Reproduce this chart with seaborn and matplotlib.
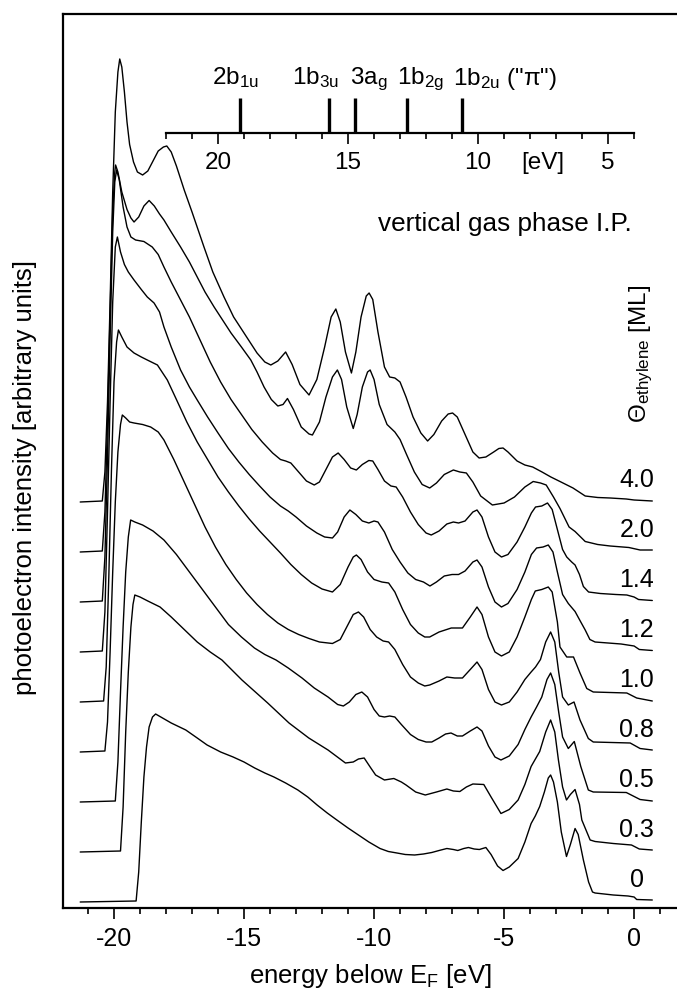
import matplotlib
matplotlib.use("Agg")
import matplotlib.pyplot as plt
import seaborn as sns
import pandas as pd
from matplotlib.ticker import MultipleLocator, FixedLocator

# coverage labels (bottom to top) and spectra as (energy [eV], intensity)
coverages = ["0", "0.3", "0.5", "0.8", "1.0", "1.2", "1.4", "2.0", "4.0"]

spec_00 = [(-21.3, 0.0), (-19.15, 0.02), (-19.05, 0.6), (-18.95, 1.6), (-18.85, 2.5), (-18.75, 3.1),
           (-18.65, 3.5), (-18.52, 3.7), (-18.4, 3.76), (-18.2, 3.7), (-17.8, 3.58), (-17.24, 3.44),
           (-16.8, 3.28), (-16.42, 3.14), (-15.9, 3.0), (-15.42, 2.9), (-15.0, 2.8), (-14.59, 2.68),
           (-14.2, 2.58), (-13.85, 2.5), (-13.4, 2.38), (-12.93, 2.24), (-12.55, 2.1), (-12.19, 1.94),
           (-11.8, 1.78), (-11.43, 1.64), (-11.0, 1.48), (-10.6, 1.34), (-10.2, 1.2), (-9.77, 1.07),
           (-9.45, 1.01), (-9.12, 0.98), (-8.8, 0.95), (-8.44, 0.94), (-8.1, 0.96), (-7.78, 0.99),
           (-7.5, 1.03), (-7.2, 1.07), (-6.95, 1.05), (-6.78, 1.03), (-6.55, 1.07), (-6.37, 1.09),
           (-6.15, 1.06), (-5.95, 1.05), (-5.7, 1.09), (-5.5, 0.95), (-5.25, 0.72), (-5.04, 0.63),
           (-4.8, 0.7), (-4.46, 0.87), (-4.2, 1.2), (-3.96, 1.57), (-3.8, 1.72), (-3.63, 1.91),
           (-3.45, 2.2), (-3.3, 2.48), (-3.21, 2.54), (-3.1, 2.4), (-2.95, 2.0), (-2.8, 1.4),
           (-2.6, 0.91), (-2.45, 1.15), (-2.27, 1.47), (-2.15, 1.35), (-1.95, 0.84), (-1.75, 0.4),
           (-1.6, 0.2), (-1.5, 0.18), (-0.8, 0.14), (-0.23, 0.12), (0.0, 0.1), (0.1, 0.05), (0.7, 0.04)]

spec_03 = [(-21.3, 0.0), (-19.75, 0.02), (-19.65, 0.9), (-19.55, 2.4), (-19.45, 3.6), (-19.35, 4.5),
           (-19.27, 4.95), (-19.2, 5.14), (-19.0, 5.1), (-18.7, 5.02), (-18.23, 4.9), (-17.8, 4.7),
           (-17.3, 4.45), (-16.8, 4.2), (-16.3, 4.0), (-15.85, 3.84), (-15.08, 3.44), (-14.09, 2.98),
           (-13.27, 2.58), (-12.51, 2.28), (-11.77, 2.04), (-11.1, 1.78), (-10.8, 1.8), (-10.6, 1.86),
           (-10.38, 1.88), (-10.15, 1.7), (-9.94, 1.54), (-9.6, 1.44), (-9.24, 1.47), (-8.95, 1.4),
           (-8.77, 1.34), (-8.4, 1.2), (-8.03, 1.14), (-7.6, 1.2), (-7.2, 1.26), (-6.95, 1.22),
           (-6.7, 1.21), (-6.45, 1.3), (-6.2, 1.36), (-5.78, 1.35), (-5.5, 1.1), (-5.12, 0.77),
           (-4.8, 0.85), (-4.46, 1.04), (-4.2, 1.35), (-3.96, 1.71), (-3.63, 2.01), (-3.4, 2.4),
           (-3.21, 2.64), (-3.05, 2.4), (-2.91, 1.84), (-2.75, 1.3), (-2.6, 1.04), (-2.45, 1.15),
           (-2.27, 1.25), (-2.1, 0.95), (-2.01, 0.64), (-1.69, 0.24), (-1.5, 0.21), (-0.8, 0.17),
           (-0.1, 0.14), (0.2, 0.06), (0.7, 0.04)]

spec_05 = [(-21.3, 0.0), (-19.95, 0.02), (-19.85, 0.8), (-19.75, 2.2), (-19.65, 3.5), (-19.55, 4.6),
           (-19.45, 5.3), (-19.36, 5.64), (-19.2, 5.6), (-18.9, 5.54), (-18.5, 5.42), (-18.08, 5.24),
           (-17.6, 4.95), (-17.1, 4.6), (-16.6, 4.25), (-16.1, 3.9), (-15.6, 3.55), (-15.1, 3.3),
           (-14.6, 3.08), (-14.2, 2.95), (-13.77, 2.84), (-13.3, 2.68), (-12.77, 2.48), (-12.3, 2.28),
           (-11.77, 2.1), (-11.4, 1.95), (-11.18, 1.92), (-10.95, 2.0), (-10.7, 2.15), (-10.47, 2.2),
           (-10.25, 2.1), (-10.0, 1.85), (-9.8, 1.72), (-9.6, 1.7), (-9.4, 1.72), (-9.2, 1.7),
           (-8.95, 1.55), (-8.6, 1.35), (-8.3, 1.25), (-8.0, 1.2), (-7.78, 1.2), (-7.5, 1.28),
           (-7.25, 1.36), (-7.04, 1.38), (-6.8, 1.32), (-6.6, 1.32), (-6.3, 1.42), (-6.04, 1.5),
           (-5.85, 1.42), (-5.6, 1.12), (-5.35, 0.9), (-5.12, 0.84), (-4.8, 0.92), (-4.46, 1.15),
           (-4.2, 1.45), (-3.96, 1.7), (-3.75, 1.9), (-3.55, 2.1), (-3.35, 2.45), (-3.21, 2.58),
           (-3.05, 2.35), (-2.9, 1.8), (-2.75, 1.3), (-2.53, 1.07), (-2.3, 1.21), (-2.05, 0.71),
           (-1.76, 0.24), (-1.57, 0.2), (-0.3, 0.19), (0.23, 0.05), (0.7, 0.02)]

spec_08 = [(-21.3, 0.0), (-20.35, 0.02), (-20.25, 0.6), (-20.15, 2.0), (-20.05, 3.6), (-19.95, 5.0),
           (-19.85, 6.0), (-19.75, 6.55), (-19.68, 6.74), (-19.55, 6.68), (-19.4, 6.6), (-19.23, 6.58),
           (-18.9, 6.55), (-18.59, 6.5), (-18.3, 6.4), (-18.08, 6.24), (-17.7, 5.85), (-17.3, 5.4),
           (-16.9, 4.95), (-16.5, 4.5), (-16.1, 4.1), (-15.7, 3.75), (-15.3, 3.45), (-14.9, 3.18),
           (-14.5, 2.95), (-14.1, 2.75), (-13.7, 2.58), (-13.3, 2.45), (-12.9, 2.35), (-12.5, 2.27),
           (-12.1, 2.2), (-11.6, 2.17), (-11.3, 2.25), (-11.0, 2.55), (-10.8, 2.75), (-10.6, 2.8),
           (-10.4, 2.7), (-10.15, 2.45), (-9.9, 2.3), (-9.65, 2.22), (-9.44, 2.2), (-9.2, 2.05),
           (-8.9, 1.75), (-8.6, 1.5), (-8.3, 1.38), (-8.05, 1.32), (-7.86, 1.34), (-7.5, 1.42),
           (-7.2, 1.5), (-6.9, 1.48), (-6.6, 1.48), (-6.3, 1.65), (-6.04, 1.8), (-5.85, 1.65),
           (-5.6, 1.25), (-5.35, 1.0), (-5.1, 0.94), (-4.8, 1.0), (-4.5, 1.2), (-4.2, 1.45),
           (-3.96, 1.6), (-3.79, 1.7), (-3.6, 1.85), (-3.4, 2.2), (-3.21, 2.4), (-3.05, 2.2),
           (-2.9, 1.6), (-2.75, 1.1), (-2.53, 0.94), (-2.31, 1.0), (-2.08, 0.64), (-1.76, 0.27),
           (-1.57, 0.2), (-0.15, 0.18), (0.23, 0.07), (0.7, 0.04)]

spec_10 = [(-21.3, 0.0), (-20.4, 0.02), (-20.3, 0.7), (-20.2, 2.5), (-20.1, 4.6), (-20.0, 6.4),
           (-19.9, 7.2), (-19.83, 7.44), (-19.7, 7.3), (-19.5, 7.1), (-19.23, 6.98), (-18.95, 6.9),
           (-18.72, 6.84), (-18.33, 6.74), (-17.95, 6.44), (-17.6, 6.05), (-17.2, 5.6), (-16.8, 5.2),
           (-16.4, 4.85), (-16.0, 4.5), (-15.6, 4.2), (-15.2, 3.92), (-14.8, 3.66), (-14.4, 3.42),
           (-14.0, 3.2), (-13.6, 2.98), (-13.2, 2.75), (-12.8, 2.55), (-12.4, 2.38), (-12.0, 2.26),
           (-11.6, 2.2), (-11.3, 2.35), (-11.0, 2.7), (-10.8, 2.9), (-10.68, 2.94), (-10.5, 2.85),
           (-10.25, 2.6), (-10.0, 2.45), (-9.7, 2.4), (-9.44, 2.38), (-9.2, 2.2), (-8.9, 1.85),
           (-8.6, 1.55), (-8.3, 1.38), (-8.05, 1.3), (-7.86, 1.3), (-7.5, 1.4), (-7.03, 1.48),
           (-6.6, 1.48), (-6.3, 1.7), (-6.04, 1.9), (-5.85, 1.75), (-5.6, 1.3), (-5.35, 1.0),
           (-5.1, 0.92), (-4.8, 1.0), (-4.5, 1.3), (-4.2, 1.7), (-3.95, 2.05), (-3.8, 2.22),
           (-3.55, 2.25), (-3.3, 2.3), (-3.15, 2.2), (-2.95, 1.6), (-2.85, 1.1), (-2.59, 0.9),
           (-2.33, 0.9), (-2.08, 0.58), (-1.82, 0.27), (-1.57, 0.2), (-0.28, 0.18), (0.1, 0.08),
           (0.7, 0.02)]

spec_12 = [(-21.3, 0.0), (-20.45, 0.02), (-20.35, 0.8), (-20.25, 2.8), (-20.15, 5.0), (-20.05, 7.0),
           (-19.95, 8.1), (-19.87, 8.3), (-19.75, 8.0), (-19.6, 7.75), (-19.45, 7.6), (-19.23, 7.44),
           (-18.95, 7.25), (-18.72, 7.1), (-18.46, 6.98), (-18.25, 6.8), (-18.08, 6.5), (-17.8, 6.1),
           (-17.44, 5.64), (-17.1, 5.3), (-16.8, 5.04), (-16.4, 4.7), (-16.0, 4.38), (-15.6, 4.07),
           (-15.2, 3.8), (-14.8, 3.55), (-14.4, 3.32), (-14.0, 3.1), (-13.6, 2.92), (-13.3, 2.82),
           (-13.0, 2.7), (-12.6, 2.52), (-12.2, 2.38), (-11.9, 2.3), (-11.6, 2.28), (-11.4, 2.4),
           (-11.15, 2.7), (-10.93, 2.84), (-10.7, 2.75), (-10.45, 2.62), (-10.2, 2.58), (-10.0, 2.62),
           (-9.85, 2.6), (-9.6, 2.4), (-9.3, 2.05), (-9.0, 1.8), (-8.7, 1.58), (-8.4, 1.45),
           (-8.1, 1.4), (-7.85, 1.32), (-7.6, 1.4), (-7.3, 1.52), (-7.0, 1.55), (-6.75, 1.55),
           (-6.5, 1.62), (-6.2, 1.8), (-6.04, 1.84), (-5.85, 1.7), (-5.6, 1.3), (-5.35, 1.0),
           (-5.1, 0.9), (-4.85, 0.97), (-4.5, 1.25), (-4.2, 1.6), (-3.95, 1.95), (-3.75, 2.08),
           (-3.5, 2.1), (-3.3, 2.14), (-3.12, 2.0), (-2.95, 1.6), (-2.75, 1.15), (-2.53, 0.97),
           (-2.27, 0.81), (-2.05, 0.6), (-1.88, 0.44), (-1.7, 0.25), (-1.5, 0.2), (-0.5, 0.16),
           (0.0, 0.12), (0.2, 0.05), (0.7, 0.03)]

spec_14 = [(-21.3, 0.0), (-20.45, 0.02), (-20.35, 0.9), (-20.25, 2.9), (-20.15, 5.3), (-20.05, 7.4),
           (-19.97, 8.4), (-19.9, 8.64), (-19.8, 8.45), (-19.65, 7.9), (-19.5, 7.5), (-19.35, 7.3),
           (-19.17, 7.24), (-18.85, 7.21), (-18.53, 7.1), (-18.3, 6.95), (-18.08, 6.7), (-17.8, 6.4),
           (-17.5, 6.1), (-17.1, 5.7), (-16.7, 5.25), (-16.3, 4.8), (-15.9, 4.4), (-15.5, 4.05),
           (-15.1, 3.75), (-14.7, 3.45), (-14.3, 3.2), (-13.9, 2.98), (-13.6, 2.85), (-13.4, 2.82),
           (-13.2, 2.78), (-12.9, 2.6), (-12.6, 2.42), (-12.3, 2.34), (-12.1, 2.4), (-11.85, 2.65),
           (-11.6, 2.9), (-11.38, 2.98), (-11.15, 2.85), (-10.9, 2.68), (-10.68, 2.64), (-10.45, 2.75),
           (-10.2, 2.83), (-10.05, 2.82), (-9.85, 2.65), (-9.6, 2.42), (-9.35, 2.32), (-9.15, 2.3),
           (-8.9, 2.1), (-8.6, 1.8), (-8.3, 1.55), (-8.0, 1.38), (-7.8, 1.34), (-7.5, 1.42),
           (-7.2, 1.56), (-6.95, 1.6), (-6.75, 1.58), (-6.5, 1.62), (-6.2, 1.8), (-6.04, 1.84),
           (-5.85, 1.7), (-5.6, 1.3), (-5.35, 1.0), (-5.1, 0.9), (-4.85, 0.95), (-4.5, 1.2),
           (-4.2, 1.5), (-3.95, 1.78), (-3.79, 1.9), (-3.55, 1.92), (-3.33, 1.98), (-3.15, 1.85),
           (-2.95, 1.45), (-2.75, 1.05), (-2.59, 0.9), (-2.4, 0.8), (-2.27, 0.74), (-2.1, 0.55),
           (-1.95, 0.31), (-1.75, 0.2), (-1.3, 0.17), (-0.7, 0.15), (-0.28, 0.14), (0.0, 0.1),
           (0.17, 0.05), (0.7, 0.03)]

spec_20 = [(-21.3, 0.0), (-20.45, 0.02), (-20.35, 0.8), (-20.25, 2.6), (-20.15, 4.8), (-20.05, 6.8),
           (-19.97, 7.6), (-19.94, 7.74), (-19.85, 7.6), (-19.7, 7.2), (-19.5, 6.85), (-19.35, 6.68),
           (-19.23, 6.6), (-19.05, 6.7), (-18.85, 6.92), (-18.65, 7.03), (-18.45, 6.92), (-18.25, 6.76),
           (-18.08, 6.64), (-17.8, 6.4), (-17.44, 6.1), (-17.1, 5.8), (-16.8, 5.5), (-16.5, 5.2),
           (-16.15, 4.9), (-15.8, 4.62), (-15.5, 4.38), (-15.1, 4.1), (-14.74, 3.84), (-14.5, 3.6),
           (-14.23, 3.3), (-13.95, 3.05), (-13.7, 2.92), (-13.5, 2.95), (-13.33, 3.07), (-13.1, 2.85),
           (-12.8, 2.5), (-12.5, 2.36), (-12.37, 2.34), (-12.1, 2.6), (-11.85, 3.1), (-11.6, 3.5),
           (-11.41, 3.64), (-11.25, 3.45), (-11.05, 2.9), (-10.8, 2.47), (-10.65, 2.75), (-10.45, 3.3),
           (-10.25, 3.6), (-10.15, 3.64), (-10.0, 3.45), (-9.8, 2.95), (-9.5, 2.55), (-9.2, 2.4),
           (-9.0, 2.25), (-8.75, 1.95), (-8.45, 1.6), (-8.15, 1.35), (-7.86, 1.28), (-7.6, 1.38),
           (-7.3, 1.55), (-6.95, 1.64), (-6.7, 1.6), (-6.45, 1.58), (-6.2, 1.4), (-5.9, 1.12),
           (-5.45, 0.94), (-5.0, 0.98), (-4.6, 1.1), (-4.2, 1.3), (-3.88, 1.41), (-3.6, 1.38),
           (-3.38, 1.34), (-3.1, 1.1), (-2.85, 0.87), (-2.5, 0.5), (-2.27, 0.41), (-1.88, 0.21),
           (-1.4, 0.15), (-0.92, 0.12), (-0.2, 0.09), (0.23, 0.04), (0.7, 0.04)]

spec_40 = [(-21.3, 0.0), (-20.45, 0.02), (-20.35, 0.6), (-20.25, 2.0), (-20.15, 4.0), (-20.05, 6.2),
           (-19.95, 7.8), (-19.85, 8.6), (-19.78, 8.86), (-19.7, 8.7), (-19.6, 8.2), (-19.5, 7.6),
           (-19.4, 7.15), (-19.25, 6.8), (-19.1, 6.6), (-18.9, 6.54), (-18.7, 6.62), (-18.5, 6.82),
           (-18.3, 7.02), (-18.1, 7.1), (-17.97, 7.12), (-17.8, 7.0), (-17.6, 6.72), (-17.3, 6.24),
           (-17.0, 5.8), (-16.54, 5.1), (-16.2, 4.6), (-15.77, 4.1), (-15.4, 3.7), (-15.0, 3.38),
           (-14.5, 2.98), (-14.2, 2.8), (-13.97, 2.74), (-13.7, 2.82), (-13.4, 3.0), (-13.15, 2.75),
           (-12.85, 2.35), (-12.5, 2.14), (-12.2, 2.45), (-11.9, 3.1), (-11.65, 3.7), (-11.47, 3.86),
           (-11.3, 3.6), (-11.1, 3.0), (-10.87, 2.58), (-10.7, 3.0), (-10.5, 3.7), (-10.3, 4.12),
           (-10.19, 4.18), (-10.05, 4.05), (-9.85, 3.4), (-9.6, 2.7), (-9.4, 2.5), (-9.2, 2.48),
           (-9.0, 2.4), (-8.77, 2.1), (-8.5, 1.7), (-8.2, 1.38), (-7.94, 1.22), (-7.7, 1.35),
           (-7.4, 1.62), (-7.15, 1.76), (-6.98, 1.78), (-6.8, 1.7), (-6.5, 1.35), (-6.2, 1.0),
           (-5.96, 0.88), (-5.7, 0.9), (-5.4, 1.0), (-5.2, 1.07), (-5.04, 1.08), (-4.85, 1.0),
           (-4.5, 0.82), (-4.2, 0.74), (-3.9, 0.7), (-3.54, 0.6), (-3.2, 0.5), (-2.85, 0.41),
           (-2.35, 0.28), (-1.88, 0.12), (-1.4, 0.09), (-0.92, 0.08), (-0.3, 0.06), (0.0, 0.04),
           (0.7, 0.02)]

spectra = [spec_00, spec_03, spec_05, spec_08, spec_10, spec_12, spec_14, spec_20, spec_40]

# gas phase ionisation potentials of ethylene orbitals [eV]
orbitals = ["2b$_{1u}$", "1b$_{3u}$", "3a$_{g}$", "1b$_{2g}$", '1b$_{2u}$ ("π")']
orbital_ip = [19.15, 15.73, 14.74, 12.73, 10.63]
ip_ticks = [20, 15, 10, 5]


def main():
    sns.set_style("ticks")
    plt.rcParams["font.family"] = ["Liberation Sans", "DejaVu Sans"]
    plt.rcParams["mathtext.fontset"] = "custom"
    plt.rcParams["mathtext.rm"] = "Liberation Sans"
    plt.rcParams["mathtext.it"] = "Liberation Sans:italic"
    plt.rcParams["mathtext.default"] = "regular"
    plt.rcParams["axes.unicode_minus"] = False
    plt.rcParams["text.color"] = "black"
    plt.rcParams["axes.labelcolor"] = "black"
    plt.rcParams["xtick.color"] = "black"
    plt.rcParams["ytick.color"] = "black"

    # long table, each spectrum shifted up by one unit per coverage step
    frames = []
    for k, (cov, spec) in enumerate(zip(coverages, spectra)):
        df = pd.DataFrame(spec, columns=["energy", "intensity"])
        df["signal"] = df["intensity"] + k
        df["coverage"] = cov
        frames.append(df)
    data = pd.concat(frames, ignore_index=True)

    fig = plt.figure(figsize=(6.77, 9.93), dpi=100)
    ax = fig.add_axes([0.0935, 0.0856, 0.9065, 0.900])

    sns.lineplot(data=data, x="energy", y="signal", units="coverage", estimator=None,
                 sort=False, color="black", lw=1.0, legend=False, ax=ax)

    ax.set_xlim(-21.95, 1.65)
    ax.set_ylim(-0.12, 17.754)
    ax.set_yticks([])
    ax.xaxis.set_major_locator(MultipleLocator(5))
    ax.xaxis.set_minor_locator(MultipleLocator(1))
    ax.tick_params(axis="x", which="major", direction="out", length=8, width=1.2,
                   labelsize=18, pad=5.5)
    ax.tick_params(axis="x", which="minor", direction="out", length=4.5, width=1.2)
    for side in ["left", "top", "bottom"]:
        ax.spines[side].set_linewidth(1.6)
        ax.spines[side].set_color("black")
    ax.spines["right"].set_visible(False)

    ax.set_xlabel("energy below E$_F$ [eV]", fontsize=18.5, labelpad=8)
    ax.set_ylabel("photoelectron intensity [arbitrary units]", fontsize=18.5)
    ax.yaxis.set_label_coords(-0.043, 0.482)

    # coverage labels above each spectrum end
    for k, cov in enumerate(coverages):
        ax.text(0.1, k + 0.29, cov, ha="center", va="baseline", fontsize=18)
    ax.text(0.27, 10.96, "Θ$_{ethylene}$ [ML]", rotation=90, ha="center", va="center", fontsize=17.5)
    ax.text(-0.08, 13.56, "vertical gas phase I.P.", ha="right", va="center", fontsize=18.8)

    # ionisation potential scale (IP = 4 eV - E)
    ins = ax.inset_axes([-18, 15.374, 18, 0.706], transform=ax.transData)
    ins.set_xlim(22, 4)
    ins.set_ylim(0, 1)
    ins.patch.set_visible(False)
    for side in ["left", "right", "top"]:
        ins.spines[side].set_visible(False)
    ins.spines["bottom"].set_linewidth(1.6)
    ins.spines["bottom"].set_color("black")
    ins.set_yticks([])
    ins.xaxis.set_major_locator(FixedLocator(ip_ticks))
    ins.xaxis.set_minor_locator(MultipleLocator(1))
    ins.tick_params(axis="x", which="major", direction="out", length=8, width=1.2,
                    labelsize=17.5, pad=5.5)
    ins.tick_params(axis="x", which="minor", direction="out", length=4.5, width=1.2)
    ins.annotate("[eV]", xy=(7.5, 0), xycoords=("data", "axes fraction"), xytext=(0, -13.5),
                 textcoords="offset points", ha="center", va="top", fontsize=17.5)
    ins.vlines(orbital_ip, 0, 1, color="black", lw=2.4)
    label_x = [20.23, 17.15, 14.92, 13.12, 10.96]
    for lx, lab in zip(label_x, orbitals):
        ins.text(lx, 1.38, lab, ha="left", va="baseline", fontsize=17.5)

    fig.savefig("out.png", dpi=100)


if __name__ == "__main__":
    main()
